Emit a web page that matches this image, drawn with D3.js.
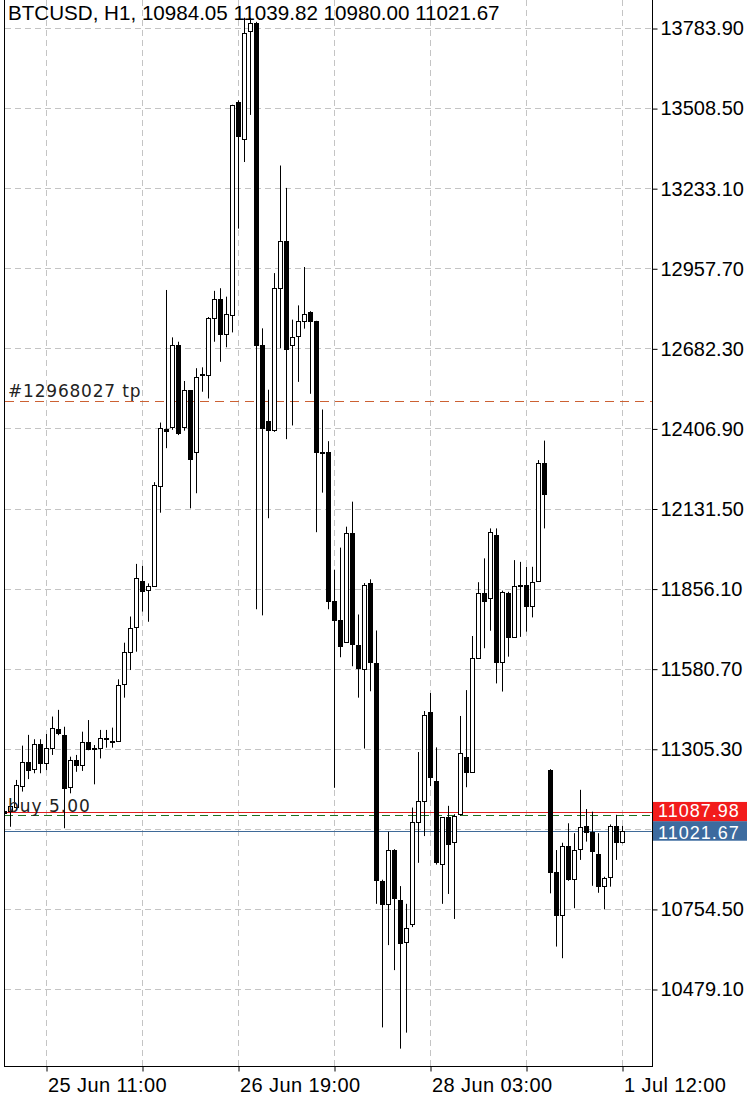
<!DOCTYPE html>
<html><head><meta charset="utf-8">
<script src="https://cdn.jsdelivr.net/npm/d3@7"></script>
<style>html,body{margin:0;padding:0;background:#fff;}svg{display:block;}</style>
</head><body><div id="chart"></div>
<script>
// ---- DATA (BTCUSD H1) ----
const opens  = [11091,11091,11106,11177,11261,11235,11322,11257,11307,11372,11353,11175,11267,11249,11327,11307,11307,11341,11331,11333,11527,11639,11723,11882,11851,11866,12209,12404,12411,12694,12413,12539,12325,12592,12591,12786,12851,12732,12798,13529,13401,13774,13801,12694,12431,12400,12890,13053,12694,12723,12778,12808,12775,12326,12326,11813,11749,11671,12046,11663,11579,11875,11601,10851,10772,10956,10786,10640,10704,11054,11126,11432,11195,10910,11069,10985,11081,11276,11226,11618,11840,11823,12040,11605,11840,11691,11865,11869,11797,11883,12289,11232,10881,10734,10971,10856,10960,11040,11020,10943,10834,10863,11040,10984.05];
const highs  = [11098,11135,11198,11316,11353,11338,11338,11356,11416,11439,11381,11278,11284,11364,11404,11318,11370,11370,11378,11544,11670,11760,11941,11934,11874,12222,12427,12883,12720,12705,12570,12539,12614,12617,12790,12880,12889,12860,13520,13535,13819,13819,13805,12751,12540,12941,13311,13234,12781,12830,12962,12810,12777,12472,12363,11921,11997,12069,12155,11767,11875,11888,11712,10855,11020,10960,10833,10772,11103,11294,11435,11497,11310,11070,11109,11080,11418,11507,11693,11878,11960,12063,12063,11849,11845,11954,11948,11931,11931,12298,12365,11235,10957,10982,11049,11015,11164,11098,11089,11015,10865,11045,11078,11039.82];
const lows   = [11075,11037,11095,11158,11201,11221,11221,11232,11284,11352,11032,11152,11226,11229,11300,11183,11272,11309,11309,11330,11481,11576,11639,11777,11742,11863,12117,12339,12402,12384,12399,12132,12184,12533,12510,12705,12636,12686,12737,13094,13323,13485,11785,11764,12098,12395,12683,12370,12417,12567,12750,12526,12050,12186,11785,11171,11620,11669,11589,11481,11306,11503,10772,10347,10630,10544,10274,10329,10692,10913,11005,11177,10907,10772,10806,10720,11075,11173,11222,11615,11651,11711,11530,11502,11622,11688,11690,11708,11757,11880,12063,10808,10625,10585,10851,10757,10923,10986,10834,10810,10753,10831,10923,10980.00];
const closes = [11083,11108,11180,11261,11232,11322,11257,11307,11376,11358,11171,11267,11249,11327,11304,11305,11341,11338,11330,11525,11637,11720,11892,11849,11865,12212,12407,12398,12694,12390,12539,12301,12585,12594,12786,12851,12732,12799,13520,13411,13765,13801,12694,12410,12400,12890,13053,12680,12720,12775,12801,12775,12326,12324,11812,11749,11659,12046,11666,11583,11869,11605,10854,10772,10958,10793,10636,10689,11054,11126,11423,11208,10917,11069,10978,11074,11290,11226,11616,11840,11815,12050,11605,11843,11691,11865,11868,11797,11880,12289,12180,10883,10734,10971,10856,10957,11037,11020,10955,10833,10860,11040,10986,11021.67];
// hourly sessions (weekend gap between them)
const sessionStarts  = ["2019-06-25T04:00:00", "2019-07-01T00:00:00"];
const sessionLengths = [91, 13];
const gridBarIdx     = [7, 23, 39, 55, 71, 87, 103];
const labeledBarIdx  = [7, 39, 71, 103];
const priceTicks = [13783.90,13508.50,13233.10,12957.70,12682.30,12406.90,12131.50,11856.10,11580.70,11305.30,11029.90,10754.50,10479.10];
const hiddenPriceTicks = [11029.90]; // covered by the price tags in the terminal
const priceDomain = [10214.3, 13880.2];
const symbolInfo = "BTCUSD, H1, 10984.05 11039.82 10980.00 11021.67";
const tpPrice = 12500, tpLabel = "#12968027 tp";
const buyPrice = 11076, buyLabel = "buy 5.00";
const askPrice = 11087.98, bidPrice = 11021.67;

// ---- BUILD ----
const times = [];
sessionStarts.forEach((s, k) => {
  const t0 = new Date(s);
  for (let j = 0; j < sessionLengths[k]; j++) times.push(d3.timeHour.offset(t0, j));
});
const bars = opens.map((o, i) => ({ i, t: times[i], o, h: highs[i], l: lows[i], c: closes[i] }));

const W = 750, H = 1098;
const L = 5, R = 652, T = 0, B = 1066;
const FONT = "'Liberation Sans', Arial, Helvetica, sans-serif";
const svg = d3.select("#chart").append("svg").attr("width", W).attr("height", H);
svg.append("rect").attr("width", W).attr("height", H).attr("fill", "#fff");

const x = d3.scaleLinear().domain([0, bars.length - 1]).range([4.5, 622.5]);
const y = d3.scaleLinear().domain(priceDomain).range([B, T]);
const py = v => Math.round(y(v)) + 0.5;

svg.append("defs").append("clipPath").attr("id", "plot")
  .append("rect").attr("x", L).attr("y", T).attr("width", R - L).attr("height", B - T);

// grid
const grid = svg.append("g").attr("stroke", "#c4c4c4").attr("stroke-dasharray", "6,4").attr("stroke-width", 1);
grid.selectAll("line.h").data(priceTicks).join("line").attr("class", "h")
  .attr("x1", L).attr("x2", R).attr("y1", d => py(d)).attr("y2", d => py(d));
grid.selectAll("line.v").data(gridBarIdx).join("line").attr("class", "v")
  .attr("x1", d => x(d)).attr("x2", d => x(d)).attr("y1", T).attr("y2", B);

// level lines
const lv = svg.append("g").attr("clip-path", "url(#plot)");
lv.append("line").attr("x1", L).attr("x2", R).attr("y1", py(tpPrice)).attr("y2", py(tpPrice))
  .attr("stroke", "#cc6133").attr("stroke-dasharray", "9,6");
lv.append("line").attr("x1", L).attr("x2", R).attr("y1", py(askPrice)).attr("y2", py(askPrice))
  .attr("stroke", "#e02020");
lv.append("line").attr("x1", L).attr("x2", R).attr("y1", py(buyPrice)).attr("y2", py(buyPrice))
  .attr("stroke", "#1f6e1f").attr("stroke-dasharray", "8,5");
lv.append("line").attr("x1", L).attr("x2", R).attr("y1", py(bidPrice)).attr("y2", py(bidPrice))
  .attr("stroke", "#3f6a98");

// candles
const cg = svg.append("g").attr("clip-path", "url(#plot)");
const candle = cg.selectAll("g.c").data(bars).join("g").attr("class", "c");
candle.append("line")
  .attr("x1", d => x(d.i)).attr("x2", d => x(d.i))
  .attr("y1", d => y(d.h)).attr("y2", d => y(d.l))
  .attr("stroke", "#000").attr("stroke-width", 1);
candle.append("rect")
  .attr("x", d => x(d.i) - 2).attr("width", 4)
  .attr("y", d => Math.round(y(Math.max(d.o, d.c))) + 0.5)
  .attr("height", d => Math.max(0, Math.round(y(Math.min(d.o, d.c))) - Math.round(y(Math.max(d.o, d.c)))))
  .attr("fill", d => d.c >= d.o ? "#fff" : "#000")
  .attr("stroke", "#000").attr("stroke-width", 1);

// in-plot labels
svg.append("text").attr("x", 8).attr("y", py(tpPrice) - 5).text(tpLabel)
  .attr("font-family", "'DejaVu Sans', sans-serif").attr("font-size", 17).attr("letter-spacing", 0.8).attr("fill", "#222");
svg.append("text").attr("x", 8).attr("y", py(askPrice) - 1).text(buyLabel)
  .attr("font-family", "'DejaVu Sans', sans-serif").attr("font-size", 17).attr("letter-spacing", 1).attr("fill", "#222");

// frame
const fr = svg.append("g").attr("stroke", "#000").attr("stroke-width", 1);
fr.append("line").attr("x1", 4.5).attr("x2", 4.5).attr("y1", T).attr("y2", B + 0.5);
fr.append("line").attr("x1", R + 0.5).attr("x2", R + 0.5).attr("y1", T).attr("y2", B + 0.5);
fr.append("line").attr("x1", 4).attr("x2", R + 1).attr("y1", B + 0.5).attr("y2", B + 0.5);

// right axis
const yAxis = d3.axisRight(y).tickValues(priceTicks).tickSize(5).tickPadding(3)
  .tickFormat(d => hiddenPriceTicks.includes(d) ? "" : d3.format(".2f")(d));
const ya = svg.append("g").attr("transform", `translate(${R + 0.5},0.5)`).call(yAxis);
ya.select(".domain").remove();
ya.selectAll("text").attr("font-family", FONT).attr("font-size", 20).attr("fill", "#000");

// bottom axis
const fmt = d3.timeFormat("%-d %b %H:%M");
const xAxis = d3.axisBottom(x).tickValues(gridBarIdx).tickSize(5).tickPadding(6)
  .tickFormat(d => labeledBarIdx.includes(d) ? fmt(times[d]) : "");
const xa = svg.append("g").attr("transform", `translate(0,${B + 0.5})`).call(xAxis);
xa.select(".domain").remove();
xa.selectAll("text").attr("font-family", FONT).attr("font-size", 20).attr("fill", "#000")
  .attr("text-anchor", "start").attr("dx", 1).attr("letter-spacing", 0.4);

// price tags
const tags = [{ v: askPrice, fill: "#f21c1c", dy: 5.5 }, { v: bidPrice, fill: "#3d6b9f", dy: 8 }];
const tg = svg.append("g").selectAll("g").data(tags).join("g");
tg.append("rect").attr("x", R + 1).attr("width", 94).attr("y", d => y(d.v) - 10).attr("height", 19.5).attr("fill", d => d.fill);
tg.append("text").attr("x", R + 6).attr("y", d => y(d.v) + d.dy).text(d => d.v.toFixed(2))
  .attr("font-family", FONT).attr("font-size", 18).attr("letter-spacing", 1).attr("fill", "#fff");

// header
svg.append("text").attr("x", 8).attr("y", 20).text(symbolInfo)
  .attr("font-family", FONT).attr("font-size", 20.6).attr("fill", "#000");
</script></body></html>
